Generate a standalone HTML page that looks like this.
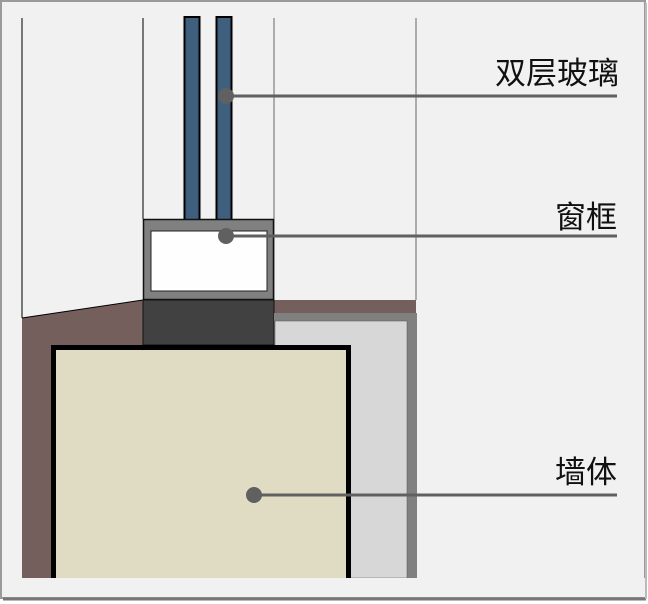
<!DOCTYPE html>
<html><head><meta charset="utf-8"><style>
html,body{margin:0;padding:0;background:#fff;}
svg{display:block;}
text{font-family:"Liberation Sans","Noto Sans CJK SC",sans-serif;font-size:31px;fill:#111;}
</style></head><body>
<svg width="648" height="604" viewBox="0 0 648 604">
<rect x="0" y="0" width="648" height="604" fill="#ffffff"/>
<rect x="1" y="1" width="644" height="597" fill="#f1f1f1" stroke="#9a9a9a" stroke-width="2"/>
<line x1="3" y1="599" x2="646" y2="599" stroke="#777" stroke-width="3"/>
<line x1="646" y1="3" x2="646" y2="599" stroke="#bbb" stroke-width="2"/>
<!-- vertical lines -->
<line x1="22" y1="18" x2="22" y2="318" stroke="#000" stroke-width="1"/>
<line x1="143" y1="18" x2="143" y2="219" stroke="#000" stroke-width="1"/>
<line x1="274" y1="18" x2="274" y2="300" stroke="#666" stroke-width="1"/>
<line x1="416" y1="18" x2="416" y2="300" stroke="#666" stroke-width="1"/>
<!-- glass -->
<rect x="184.5" y="17" width="15" height="203" fill="#3f5f7f" stroke="#000" stroke-width="2"/>
<rect x="216.5" y="17" width="15" height="203" fill="#3f5f7f" stroke="#000" stroke-width="2"/>
<!-- frame -->
<rect x="143.5" y="219.5" width="130" height="80" fill="#808080" stroke="#111" stroke-width="1.5"/>
<rect x="151" y="231" width="116" height="60" fill="#fefefe" stroke="#222" stroke-width="1"/>
<!-- brown -->
<polygon points="22,318 143,300 143,345 51,345 51,578 22,578" fill="#755f5d"/>
<line x1="22" y1="318" x2="143" y2="300" stroke="#000" stroke-width="1"/>
<rect x="274" y="300" width="142" height="13" fill="#755f5d"/>
<!-- dark block -->
<rect x="143" y="300" width="131" height="45" fill="#414141" stroke="#111" stroke-width="1"/>
<!-- gray insulation -->
<rect x="275" y="313" width="142" height="265" fill="#808080"/>
<rect x="275" y="321" width="132" height="257" fill="#d8d7d8" stroke="#555" stroke-width="0.5"/>
<!-- wall -->
<rect x="53.5" y="347.5" width="295" height="240" fill="#e0dbc3" stroke="#000" stroke-width="5"/>
<rect x="3" y="578" width="642" height="19" fill="#f1f1f1"/>
<!-- connectors -->
<line x1="227" y1="96" x2="617" y2="96" stroke="#606060" stroke-width="3"/>
<circle cx="226" cy="96" r="8" fill="#606060"/>
<line x1="226" y1="236" x2="617" y2="236" stroke="#606060" stroke-width="3"/>
<circle cx="226" cy="236" r="8" fill="#606060"/>
<line x1="254" y1="495" x2="617" y2="495" stroke="#606060" stroke-width="3"/>
<circle cx="254" cy="495" r="8" fill="#606060"/>
<!-- labels -->
<text x="619" y="84" text-anchor="end">双层玻璃</text>
<text x="617" y="228" text-anchor="end">窗框</text>
<text x="617" y="483" text-anchor="end">墙体</text>
</svg>
</body></html>
